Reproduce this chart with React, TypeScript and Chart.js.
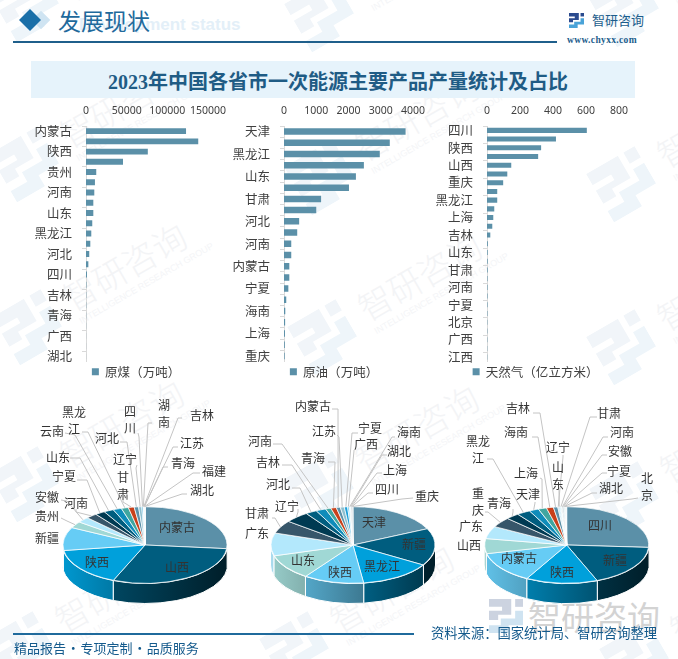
import React, { useEffect, useRef } from "react";
import { Chart, registerables } from "chart.js";

Chart.register(...registerables);

const coalCategories = ["内蒙古","山西","陕西","新疆","贵州","安徽","河南","宁夏","山东","云南","黑龙江","甘肃","河北","辽宁","四川","湖南","吉林","江苏","青海","福建","广西","江西","湖北"];
const coalValues = [123000,138000,76000,45500,12600,11000,10200,9000,9000,7700,6500,5300,4000,2900,1200,500,300,300,200,150,100,80,60];

const oilCategories = ["天津","新疆","黑龙江","陕西","山东","广东","甘肃","辽宁","河北","吉林","河南","青海","内蒙古","江苏","宁夏","广西","海南","湖北","上海","四川","重庆"];
const oilValues = [3770,3280,2970,2477,2230,2015,1150,1000,470,410,225,225,165,165,135,70,40,35,30,25,20];

const gasCategories = ["四川","新疆","陕西","内蒙古","山西","广东","重庆","青海","黑龙江","天津","上海","海南","吉林","辽宁","山东","江苏","甘肃","河北","河南","安徽","宁夏","湖北","北京","云南","广西","贵州","江西"];
const gasValues = [605,418,328,310,147,123,98,62,62,44,38,32,20,5,4,4,4,3,3,3,3,2.5,2,2,2,1.5,1.5];

const coalXTicks = [0, 50000, 100000, 150000];
const oilXTicks = [0, 1000, 2000, 3000, 4000];
const gasXTicks = [0, 200, 400, 600, 800];

const sliceColors = ["#5b90a8","#005d7f","#00a0db","#66ccf5","#a0d8d5","#b3e8fc","#37566a","#003a52","#005d7f","#0f8cba","#3fa6a0","#c8401a","#5b90a8","#8fc0cf","#1ea0d8","#66ccf5","#a0d8d5","#b3e8fc","#37566a","#003a52","#005d7f","#0f8cba","#3fa6a0","#c8401a","#5b90a8","#8fc0cf","#1ea0d8"];

type PieLabel = { name: string; lines: string[]; x: number; y: number; from?: number[]; elbow?: number[] };

const coalPieLabels: PieLabel[] = [
  { name:"内蒙古", lines:["内蒙古"], x:177, y:527 },
  { name:"山西", lines:["山西"], x:177, y:567 },
  { name:"陕西", lines:["陕西"], x:97, y:562 },
  { name:"新疆", lines:["新疆"], x:47, y:538 },
  { name:"贵州", lines:["贵州"], x:47, y:516, from:[61,518], elbow:[67,521] },
  { name:"安徽", lines:["安徽"], x:47, y:497, from:[61,500], elbow:[67,501] },
  { name:"河南", lines:["河南"], x:76, y:503, from:[76,509], elbow:[76,512] },
  { name:"宁夏", lines:["宁夏"], x:64, y:476, from:[77,480], elbow:[87,480] },
  { name:"山东", lines:["山东"], x:58, y:457, from:[70,458], elbow:[80,458] },
  { name:"云南", lines:["云南"], x:52, y:431, from:[65,433], elbow:[75,435] },
  { name:"黑龙江", lines:["黑龙","江"], x:74, y:412, from:[82,432], elbow:[88,432] },
  { name:"甘肃", lines:["甘","肃"], x:123, y:477, from:[123,500], elbow:[123,502] },
  { name:"河北", lines:["河北"], x:107, y:438, from:[120,442], elbow:[127,442] },
  { name:"辽宁", lines:["辽宁"], x:125, y:459, from:[137,465], elbow:[136,468] },
  { name:"四川", lines:["四","川"], x:130, y:411, from:[138,433], elbow:[139,437] },
  { name:"湖南", lines:["湖","南"], x:164, y:405, from:[152,423], elbow:[148,423] },
  { name:"吉林", lines:["吉林"], x:202, y:415, from:[182,418], elbow:[178,418] },
  { name:"江苏", lines:["江苏"], x:192, y:443, from:[178,447], elbow:[173,447] },
  { name:"青海", lines:["青海"], x:183, y:463, from:[168,467], elbow:[163,467] },
  { name:"福建", lines:["福建"], x:214, y:471, from:[200,473], elbow:[193,473] },
  { name:"湖北", lines:["湖北"], x:202, y:490, from:[187,494], elbow:[182,494] },
];

const oilPieLabels: PieLabel[] = [
  { name:"天津", lines:["天津"], x:374, y:522 },
  { name:"新疆", lines:["新疆"], x:414, y:544 },
  { name:"黑龙江", lines:["黑龙江"], x:382, y:566 },
  { name:"陕西", lines:["陕西"], x:340, y:572 },
  { name:"山东", lines:["山东"], x:303, y:560 },
  { name:"广东", lines:["广东"], x:257, y:533 },
  { name:"甘肃", lines:["甘肃"], x:257, y:513, from:[272,518], elbow:[275,518] },
  { name:"辽宁", lines:["辽宁"], x:287, y:506, from:[298,509], elbow:[298,512] },
  { name:"河北", lines:["河北"], x:278, y:484, from:[292,488], elbow:[300,488] },
  { name:"吉林", lines:["吉林"], x:268, y:462, from:[282,465], elbow:[292,465] },
  { name:"河南", lines:["河南"], x:260, y:441, from:[273,444], elbow:[282,444] },
  { name:"青海", lines:["青海"], x:313, y:458, from:[328,462], elbow:[335,462] },
  { name:"江苏", lines:["江苏"], x:324, y:431, from:[337,435], elbow:[339,437] },
  { name:"内蒙古", lines:["内蒙古"], x:313, y:406, from:[332,409], elbow:[338,409] },
  { name:"宁夏", lines:["宁夏"], x:370, y:428, from:[358,433], elbow:[352,433] },
  { name:"广西", lines:["广西"], x:366, y:444, from:[354,450], elbow:[354,451] },
  { name:"海南", lines:["海南"], x:409, y:432, from:[395,437], elbow:[392,437] },
  { name:"湖北", lines:["湖北"], x:399, y:451, from:[387,455], elbow:[382,455] },
  { name:"上海", lines:["上海"], x:395, y:470, from:[382,473], elbow:[377,473] },
  { name:"四川", lines:["四川"], x:387, y:489, from:[373,493], elbow:[368,493] },
  { name:"重庆", lines:["重庆"], x:427, y:496, from:[413,498], elbow:[402,499] },
];

const gasPieLabels: PieLabel[] = [
  { name:"四川", lines:["四川"], x:600, y:525 },
  { name:"新疆", lines:["新疆"], x:615, y:560 },
  { name:"陕西", lines:["陕西"], x:562, y:572 },
  { name:"内蒙古", lines:["内蒙古"], x:519, y:558 },
  { name:"山西", lines:["山西"], x:469, y:545 },
  { name:"广东", lines:["广东"], x:471, y:526 },
  { name:"重庆", lines:["重","庆"], x:478, y:493, from:[485,512], elbow:[488,512] },
  { name:"青海", lines:["青海"], x:499, y:503, from:[513,509], elbow:[513,512] },
  { name:"黑龙江", lines:["黑龙","江"], x:478, y:441, from:[487,459], elbow:[493,459] },
  { name:"天津", lines:["天津"], x:528, y:494, from:[535,502], elbow:[535,503] },
  { name:"上海", lines:["上海"], x:526, y:473, from:[540,478], elbow:[542,479] },
  { name:"海南", lines:["海南"], x:516, y:432, from:[532,437], elbow:[538,437] },
  { name:"吉林", lines:["吉林"], x:518, y:408, from:[533,413], elbow:[540,413] },
  { name:"辽宁", lines:["辽宁"], x:558, y:447, from:[563,455], elbow:[563,457] },
  { name:"山东", lines:["山","东"], x:558, y:467, from:[559,490], elbow:[559,492] },
  { name:"甘肃", lines:["甘肃"], x:609, y:413, from:[597,417], elbow:[590,417] },
  { name:"河南", lines:["河南"], x:622, y:432, from:[608,437], elbow:[603,437] },
  { name:"安徽", lines:["安徽"], x:620, y:451, from:[607,455], elbow:[602,455] },
  { name:"宁夏", lines:["宁夏"], x:619, y:471, from:[607,473], elbow:[602,473] },
  { name:"湖北", lines:["湖北"], x:611, y:488, from:[597,493], elbow:[592,493] },
  { name:"北京", lines:["北","京"], x:647, y:478, from:[638,498], elbow:[632,499] },
];

const CJK = '"Noto Sans CJK SC","Noto Sans",sans-serif';
const NUM = '"Noto Sans","Noto Sans CJK SC",sans-serif';

function shade(hex: string, f: number) {
  const n = parseInt(hex.slice(1), 16);
  const r = Math.round(((n >> 16) & 255) * f);
  const g = Math.round(((n >> 8) & 255) * f);
  const b = Math.round((n & 255) * f);
  return `rgb(${r},${g},${b})`;
}

const PIE_RX = 82.5, PIE_RY = 38.5, PIE_DEPTH = 20;
const PIE_TOP = 395, PIE_CY = 545, PIE_H = 300;

function makePie(canvas: HTMLCanvasElement, cats: string[], values: number[], labels: PieLabel[], left: number, cx0: number) {
  const top = PIE_TOP;
  const k = PIE_RY / PIE_RX;
  const plugin = {
    id: "pie3d",
    beforeDatasetsDraw(chart: any) {
      const ctx = chart.ctx;
      const arcs = chart.getDatasetMeta(0).data;
      const cx = arcs[0].x, cy = arcs[0].y;
      arcs.forEach((a: any, i: number) => {
        const s = Math.max(a.startAngle, 0), e = Math.min(a.endAngle, Math.PI);
        if (e <= s) return;
        const g = ctx.createLinearGradient(cx - PIE_RX, 0, cx + PIE_RX, 0);
        const c = sliceColors[i % sliceColors.length];
        g.addColorStop(0, shade(c, 0.95));
        g.addColorStop(1, shade(c, 0.32));
        ctx.beginPath();
        ctx.ellipse(cx, cy, PIE_RX, PIE_RY, 0, s, e);
        ctx.ellipse(cx, cy + PIE_DEPTH, PIE_RX, PIE_RY, 0, e, s, true);
        ctx.closePath();
        ctx.fillStyle = g;
        ctx.fill();
        ctx.strokeStyle = "#ffffff";
        ctx.lineWidth = 1;
        ctx.stroke();
      });
      ctx.save();
      ctx.translate(cx, cy);
      ctx.scale(1, k);
      ctx.translate(-cx, -cy);
    },
    afterDatasetsDraw(chart: any) {
      const ctx = chart.ctx;
      ctx.restore();
      const arcs = chart.getDatasetMeta(0).data;
      ctx.font = `12px ${CJK}`;
      ctx.textAlign = "center";
      ctx.textBaseline = "middle";
      labels.forEach((l) => {
        const idx = cats.indexOf(l.name);
        if (idx < 0) return;
        const a = arcs[idx];
        if (l.from && l.elbow) {
          const m = (a.startAngle + a.endAngle) / 2;
          ctx.beginPath();
          ctx.moveTo(l.from[0] - left, l.from[1] - top);
          ctx.lineTo(l.elbow[0] - left, l.elbow[1] - top);
          ctx.lineTo(a.x + Math.cos(m) * PIE_RX, a.y + Math.sin(m) * PIE_RY);
          ctx.strokeStyle = "#c4c4c4";
          ctx.lineWidth = 1;
          ctx.stroke();
        }
      });
      ctx.fillStyle = "#333333";
      labels.forEach((l) => {
        l.lines.forEach((t, j) => ctx.fillText(t, l.x - left, l.y - top + j * 17));
      });
    },
  };
  const w = canvas.width;
  const ox = cx0 - left, oy = PIE_CY - top;
  return new Chart(canvas, {
    type: "pie",
    data: {
      labels: cats,
      datasets: [{ data: values, backgroundColor: sliceColors, borderColor: "#ffffff", borderWidth: 1, clip: false } as any],
    },
    options: {
      animation: false,
      responsive: false,
      events: [],
      rotation: 0,
      layout: { padding: { left: ox - PIE_RX, right: w - ox - PIE_RX, top: oy - PIE_RX, bottom: PIE_H - oy - PIE_RX } },
      plugins: { legend: { display: false }, tooltip: { enabled: false } },
    },
    plugins: [plugin],
  } as any);
}

type BarCfg = { cats: string[]; values: number[]; name: string; ticks: number[]; x0: number; x1: number; left: number; right: number; tickEvery: number; legendDx: number };

function makeBar(canvas: HTMLCanvasElement, c: BarCfg) {
  const W = c.right - c.left;
  const shiftLegend = {
    id: "shiftLegend",
    afterLayout(chart: any) {
      chart.legend.left += c.legendDx;
      chart.legend.right += c.legendDx;
    },
  };
  return new Chart(canvas, {
    type: "bar",
    data: {
      labels: c.cats,
      datasets: [{ label: c.name, data: c.values, backgroundColor: "#5b90a8", barPercentage: 0.58, categoryPercentage: 1 }],
    },
    options: {
      indexAxis: "y",
      animation: false,
      responsive: false,
      events: [],
      layout: { padding: { left: 0, right: W - (c.x1 - c.left), top: 0, bottom: 0 } },
      plugins: {
        tooltip: { enabled: false },
        legend: {
          position: "bottom",
          labels: { boxWidth: 7, boxHeight: 7, padding: 4, color: "#404040", font: { family: CJK, size: 12.5 } },
        },
      },
      scales: {
        x: {
          position: "top",
          min: c.ticks[0],
          max: c.ticks[c.ticks.length - 1],
          afterBuildTicks: (s: any) => { s.ticks = c.ticks.map((v) => ({ value: v })); },
          afterFit: (s: any) => { s.height = 26; },
          grid: { display: false },
          border: { display: false },
          ticks: { autoSkip: false, maxRotation: 0, padding: 1, color: "#404040", font: { family: NUM, size: 10.5 }, callback: (v: any) => String(v) },
        },
        y: {
          afterFit: (s: any) => { s.width = c.x0 - c.left; },
          border: { display: true, color: "#d9d9d9" },
          grid: {
            drawOnChartArea: false,
            drawTicks: true,
            tickLength: 4,
            tickColor: (ctx: any) => (ctx.index % c.tickEvery === 0 ? "#d9d9d9" : "rgba(0,0,0,0)"),
          },
          ticks: {
            autoSkip: false,
            padding: 10,
            color: "#404040",
            font: { family: CJK, size: 12.5 },
            callback: (_v: any, i: number) => (i % 2 === 0 ? c.cats[i] : ""),
          },
        },
      },
    },
    plugins: [shiftLegend],
  } as any);
}

function Logo({ size, top, bottom }: { size: number; top: string; bottom: string }) {
  return (
    <svg width={size} height={size} viewBox="0 0 26 26" style={{ display: "block" }}>
      <path d="M0 0H17V12H7V16H0V9H10V6H0Z" fill={top} />
      <path d="M20 0H26V6H20Z" fill={top} />
      <path d="M20 9H26V20H15V26H0V20H9V15H20Z" fill={bottom} />
    </svg>
  );
}

const wmPositions = [
  [30, 5], [325, 15], [630, 10],
  [30, 165], [325, 178], [627, 185],
  [33, 328], [328, 338], [627, 348],
  [30, 485], [325, 490], [630, 500],
  [25, 650], [300, 650], [640, 660],
];

function Watermark({ x, y }: { x: number; y: number }) {
  return (
    <div style={{ position: "absolute", left: x - 30, top: y - 30, width: 240, height: 60, transform: "rotate(-30deg)", transformOrigin: "30px 30px" }}>
      <div style={{ position: "absolute", left: 0, top: 0 }}>
        <Logo size={56} top="#f1f5f9" bottom="#eef5fa" />
      </div>
      <div style={{ position: "absolute", left: 72, top: 2, fontFamily: CJK, fontSize: 34, lineHeight: "40px", fontWeight: 300, color: "#f3f4f6", whiteSpace: "nowrap" }}>智研咨询</div>
      <div style={{ position: "absolute", left: 74, top: 42, fontFamily: '"Liberation Sans"', fontSize: 9, lineHeight: "12px", color: "#f4f5f7", whiteSpace: "nowrap" }}>INTELLIGENCE RESEARCH GROUP</div>
    </div>
  );
}

export default function App() {
  const c1 = useRef<HTMLCanvasElement>(null);
  const c2 = useRef<HTMLCanvasElement>(null);
  const c3 = useRef<HTMLCanvasElement>(null);
  const p1 = useRef<HTMLCanvasElement>(null);
  const p2 = useRef<HTMLCanvasElement>(null);
  const p3 = useRef<HTMLCanvasElement>(null);

  useEffect(() => {
    const charts = [
      makeBar(c1.current!, { cats: coalCategories, values: coalValues, name: "原煤（万吨）", ticks: coalXTicks, x0: 86, x1: 208, left: 20, right: 246, tickEvery: 2, legendDx: 22 }),
      makeBar(c2.current!, { cats: oilCategories, values: oilValues, name: "原油（万吨）", ticks: oilXTicks, x0: 284, x1: 413, left: 225, right: 437, tickEvery: 1, legendDx: 15 }),
      makeBar(c3.current!, { cats: gasCategories, values: gasValues, name: "天然气（亿立方米）", ticks: gasXTicks, x0: 487, x1: 619, left: 430, right: 638, tickEvery: 2, legendDx: 11 }),
      makePie(p1.current!, coalCategories, coalValues, coalPieLabels, 0, 145),
      makePie(p2.current!, oilCategories, oilValues, oilPieLabels, 230, 353),
      makePie(p3.current!, gasCategories, gasValues, gasPieLabels, 450, 566.7),
    ];
    return () => charts.forEach((c) => c.destroy());
  }, []);

  const abs = (l: number, t: number, w?: number, h?: number): React.CSSProperties => ({ position: "absolute", left: l, top: t, width: w, height: h });
  const barH = 288;

  return (
    <div style={{ position: "fixed", left: 0, top: 0, width: 678, height: 659, overflow: "hidden", background: "#fff" }}>
      {wmPositions.map((p, i) => <Watermark key={i} x={p[0]} y={p[1]} />)}

      <div style={{ ...abs(79, 15, 180, 20), fontFamily: '"Liberation Sans"', fontWeight: 700, fontSize: 17, lineHeight: "20px", color: "#e3eff8", whiteSpace: "nowrap" }}>Development status</div>
      <div style={{ ...abs(31, 10, 20, 20), background: "#cfe4f2", transform: "rotate(45deg) scale(0.66)" }} />
      <div style={{ ...abs(20, 10, 20, 20), background: "#1a6fa8", transform: "rotate(45deg) scale(0.78)" }} />
      <div style={{ ...abs(58, 5, 100, 30), fontFamily: CJK, fontSize: 23, lineHeight: "30px", color: "#1f6a9c", whiteSpace: "nowrap" }}>发展现状</div>
      <div style={{ ...abs(13, 41, 544, 1.5), background: "#1f5f8b" }} />
      <div style={{ ...abs(569, 13, 15, 15) }}><Logo size={15} top="#2a4a8e" bottom="#4aa3d8" /></div>
      <div style={{ ...abs(592, 11, 60, 18), fontFamily: CJK, fontSize: 13, lineHeight: "18px", color: "#1c5d8c", whiteSpace: "nowrap" }}>智研咨询</div>
      <div style={{ ...abs(567, 34, 80, 12), fontFamily: '"Liberation Serif"', fontWeight: 700, fontSize: 9.5, lineHeight: "12px", letterSpacing: 0.35, color: "#1c5d8c", whiteSpace: "nowrap" }}>www.chyxx.com</div>

      <div style={{ ...abs(31, 61, 604, 37), background: "#e6f3fb" }} />
      <div style={{ ...abs(41, 61, 594, 37), fontFamily: `"Liberation Serif","Noto Sans CJK SC"`, fontWeight: 700, fontSize: 20, lineHeight: "42px", textAlign: "center", color: "#1f5c85", whiteSpace: "nowrap" }}>2023年中国各省市一次能源主要产品产量统计及占比</div>

      <canvas ref={c1} width={226} height={barH} style={{ ...abs(20, 100), display: "block" }} />
      <canvas ref={c2} width={212} height={barH} style={{ ...abs(225, 100), display: "block" }} />
      <canvas ref={c3} width={208} height={barH} style={{ ...abs(430, 100), display: "block" }} />

      <div style={{ ...abs(489, 599, 34, 34) }}><Logo size={34} top="#ccd3e0" bottom="#cfe3f1" /></div>
      <div style={{ ...abs(528, 594, 140, 44), fontFamily: CJK, fontSize: 33, lineHeight: "44px", color: "#d3d3d3", whiteSpace: "nowrap" }}>智研咨询</div>

      <canvas ref={p1} width={290} height={PIE_H} style={{ ...abs(0, PIE_TOP), display: "block" }} />
      <canvas ref={p2} width={248} height={PIE_H} style={{ ...abs(230, PIE_TOP), display: "block" }} />
      <canvas ref={p3} width={228} height={PIE_H} style={{ ...abs(450, PIE_TOP), display: "block" }} />

      <div style={{ ...abs(13, 633, 401, 1.5), background: "#1f6a9c" }} />
      <div style={{ ...abs(14, 639, 200, 18), fontFamily: CJK, fontSize: 13, lineHeight: "18px", wordSpacing: -2.2, color: "#145a8c", whiteSpace: "nowrap" }}>精品报告 · 专项定制 · 品质服务</div>
      <div style={{ ...abs(431, 624, 240, 18), fontFamily: CJK, fontSize: 13.3, lineHeight: "18px", color: "#145a8c", whiteSpace: "nowrap" }}>资料来源：国家统计局、智研咨询整理</div>
    </div>
  );
}
